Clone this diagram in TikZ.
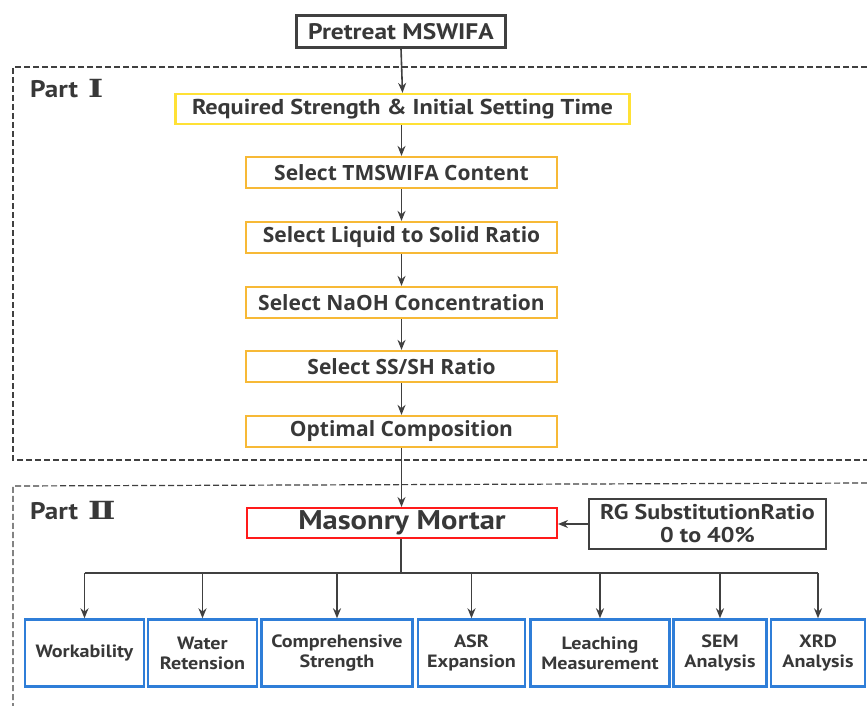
\documentclass[tikz,border=0pt]{standalone}
\usepackage{fontspec}
\setmainfont[FakeStretch=1.13]{PT Sans}
\newfontfamily\widefont{Open Sans}
\newfontfamily\numfont[FakeStretch=1.3]{DejaVu Serif}
\usetikzlibrary{arrows.meta}
\definecolor{txt}{HTML}{383838}
\definecolor{lin}{HTML}{404040}
\definecolor{yel}{HTML}{FFE135}
\definecolor{org}{HTML}{F7B936}
\definecolor{redb}{HTML}{FF1A1A}
\definecolor{blu}{HTML}{2F7ED8}
\tikzset{
  base/.style={draw, inner sep=0pt, align=center, text=txt, font=\bfseries},
  graybox/.style={base, draw=lin, line width=2.4pt},
  yelbox/.style={base, draw=yel, line width=2.2pt, minimum width=454pt, minimum height=30pt},
  orgbox/.style={base, draw=org, line width=2.2pt, minimum width=311pt, minimum height=31pt, font=\widefont\bfseries\fontsize{21}{22}\selectfont},
  redbox/.style={base, draw=redb, line width=2pt, minimum width=310pt, minimum height=30pt},
  blubox/.style={base, draw=blu, line width=2.4pt, minimum height=67pt, font=\bfseries\fontsize{17.8}{20}\selectfont},
  conn/.style={draw=lin, line width=1.6pt},
  arr/.style={conn, -{Stealth[length=10pt,width=8pt]}},
  frame/.style={draw=lin, line width=1.2pt, dash pattern=on 6pt off 3pt},
  partlab/.style={anchor=west, text=txt, font=\bfseries\fontsize{24}{28}\selectfont, inner sep=0pt}
}
\begin{document}
\begin{tikzpicture}[x=1pt,y=-1pt]
\useasboundingbox (0,0) rectangle (867,706);
% frames
\draw[frame] (867,67) -- (13,67) -- (13,460) -- (867,460);
\draw[frame] (867,483) -- (13,486) -- (13,706);
\node[partlab] (p1) at (30,89) {Part\hspace{10pt}{\numfont\bfseries\fontsize{25}{28}\selectfont Ⅰ}};
\node[partlab] (p2) at (30,511) {Part\hspace{10pt}{\numfont\bfseries\fontsize{25}{28}\selectfont Ⅱ}};
% top chain
\node[graybox, minimum width=209pt, minimum height=32pt, font=\bfseries\fontsize{22.5}{26}\selectfont] (pre) at (401,31.5) {Pretreat MSWIFA};
\node[yelbox, font=\bfseries\fontsize{21.5}{24}\selectfont] (req) at (402.5,109) {Required Strength \& Initial Setting Time};
\node[orgbox] (s1) at (401.5,172.5) {Select TMSWIFA Content};
\node[orgbox] (s2) at (401.5,237.5) {Select Liquid to Solid Ratio};
\node[orgbox] (s3) at (401.5,302.5) {Select NaOH Concentration};
\node[orgbox] (s4) at (401.5,366.5) {Select SS/SH Ratio};
\node[orgbox] (s5) at (401.5,431.5) {Optimal Composition};
\node[redbox, font=\bfseries\fontsize{27}{30}\selectfont] (mm) at (402,523) {Masonry Mortar};
\node[graybox, line width=2.2pt, minimum width=237pt, minimum height=50pt, font=\bfseries\fontsize{21.3}{23}\selectfont] (rg) at (707.5,524) {RG SubstitutionRatio\\0 to 40\%};
\draw[arr] (pre.south) -- (req.north);
\draw[arr] (req.south -| s1.north) -- (s1.north);
\draw[arr] (s1) -- (s2);
\draw[arr] (s2) -- (s3);
\draw[arr] (s3) -- (s4);
\draw[arr] (s4) -- (s5);
\draw[arr] (s5) -- (s5.south |- mm.north);
\draw[arr] (rg.west) -- (mm.east |- rg.west);
% bottom boxes
\node[blubox, minimum width=119pt] (b1) at (84.5,653) {Workability};
\node[blubox, minimum width=109pt] (b2) at (202.5,653) {Water\\Retension};
\node[blubox, minimum width=151pt] (b3) at (337,653) {Comprehensive\\Strength};
\node[blubox, minimum width=107pt] (b4) at (471.5,653) {ASR\\Expansion};
\node[blubox, minimum width=139pt] (b5) at (600,653) {Leaching\\Measurement};
\node[blubox, minimum width=93pt] (b6) at (720,653) {SEM\\Analysis};
\node[blubox, minimum width=94pt] (b7) at (818,653) {XRD\\Analysis};
\coordinate (bar) at (401,573);
\draw[conn] (mm.south -| bar) -- (bar);
\draw[conn] (b1.north |- bar) -- (b7.north |- bar);
\foreach \b in {b1,b2,b3,b4,b5,b6,b7} {
  \draw[arr] (\b.north |- bar) -- (\b.north);
}
\end{tikzpicture}
\end{document}
